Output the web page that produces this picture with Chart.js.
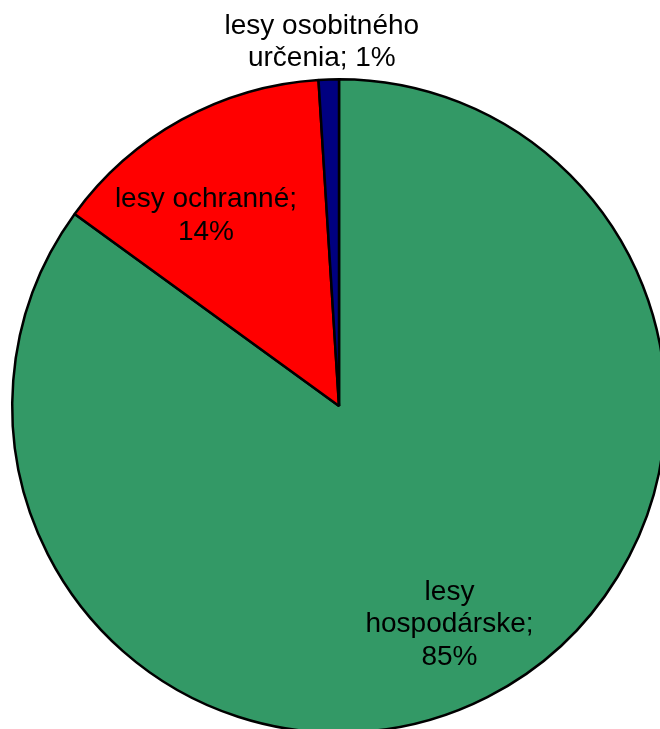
<!DOCTYPE html>
<html>
<head>
<meta charset="utf-8">
<script src="https://cdn.jsdelivr.net/npm/chart.js@4/dist/chart.umd.min.js"></script>
<style>
  html, body { margin: 0; padding: 0; background: #fff; overflow: hidden; }
  body { width: 660px; height: 729px; position: relative; }
  #wrap { position: absolute; left: 0; top: 0; width: 678px; height: 812px; }
</style>
</head>
<body>
<div id="wrap"><canvas id="pie"></canvas></div>
<script>
const categories = ['lesy hospodárske', 'lesy ochranné', 'lesy osobitného určenia']
const shares = [85, 14, 1]
const labelLines = [
  ['lesy', 'hospodárske;', '85%'],
  ['lesy ochranné;', '14%'],
  ['lesy osobitného', 'určenia; 1%']
]
const sliceColors = ['#339966', '#ff0000', '#000080']

// where each label sits: fraction of the radius and a small turn off the slice middle (deg)
const labelRadius = [0.75, 0.71, 1.115]
const labelTurn = [0.2, -6.2, -0.9]

const sliceLabels = {
  id: 'sliceLabels',
  afterDatasetsDraw(chart) {
    const ctx = chart.ctx
    const arcs = chart.getDatasetMeta(0).data
    ctx.save()
    ctx.font = '28px "Liberation Sans", Arial, sans-serif'
    ctx.fillStyle = '#000'
    ctx.textAlign = 'center'
    ctx.textBaseline = 'middle'
    const lineH = 32.5
    arcs.forEach((arc, i) => {
      const a = (arc.startAngle + arc.endAngle) / 2 + labelTurn[i] * Math.PI / 180
      const r = arc.outerRadius * labelRadius[i]
      const cx = arc.x + r * Math.cos(a)
      const cy = arc.y + r * Math.sin(a)
      const lines = labelLines[i]
      const y0 = cy - (lines.length - 1) * lineH / 2
      lines.forEach((t, k) => ctx.fillText(t, cx, y0 + k * lineH))
    })
    ctx.restore()
  }
}

new Chart(document.getElementById('pie'), {
  type: 'pie',
  data: {
    labels: categories,
    datasets: [{
      data: shares,
      backgroundColor: sliceColors,
      borderColor: '#000',
      borderWidth: 2.5
    }]
  },
  options: {
    responsive: true,
    maintainAspectRatio: false,
    animation: false,
    layout: { padding: { left: 11, right: 11, top: 78, bottom: 78 } },
    plugins: {
      legend: { display: false },
      tooltip: { enabled: false }
    }
  },
  plugins: [sliceLabels]
})
</script>
</body>
</html>
